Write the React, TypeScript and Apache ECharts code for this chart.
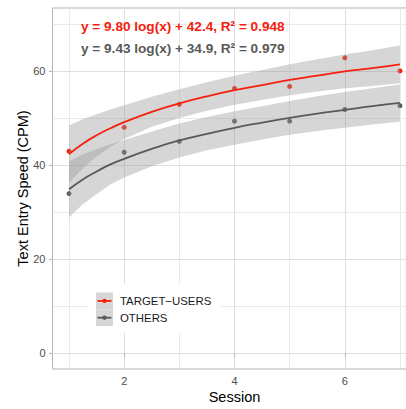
import React, { useEffect, useRef } from "react";
import * as echarts from "echarts";

// Observed session means
const sessions = [1, 2, 3, 4, 5, 6, 7];
const targetSpeed = [43.0, 48.1, 53.0, 56.4, 56.8, 62.9, 60.1];
const otherSpeed = [34.0, 42.8, 45.1, 49.4, 49.4, 51.9, 52.7];

// Fitted curves and confidence bands
const fitSessions = [1, 1.25, 1.5, 1.75, 2, 2.5, 3, 3.5, 4, 4.5, 5, 5.5, 6, 6.5, 7];
const targetFit = [42.4, 44.6, 46.4, 47.9, 49.2, 51.4, 53.2, 54.7, 56.0, 57.1, 58.2, 59.1, 60.0, 60.7, 61.5];
const targetLower = [36.3, 39.4, 41.9, 43.9, 45.6, 48.2, 50.1, 51.6, 52.9, 53.9, 54.9, 55.7, 56.4, 56.9, 57.5];
const targetUpper = [48.5, 49.8, 50.9, 51.9, 52.8, 54.6, 56.2, 57.7, 59.1, 60.3, 61.5, 62.6, 63.6, 64.5, 65.5];
const otherFit = [34.9, 37.0, 38.7, 40.2, 41.4, 43.5, 45.3, 46.7, 48.0, 49.1, 50.1, 51.0, 51.8, 52.6, 53.3];
const otherLower = [28.9, 31.7, 33.9, 35.9, 37.4, 39.8, 41.7, 43.2, 44.4, 45.5, 46.5, 47.3, 48.0, 48.7, 49.3];
const otherUpper = [40.9, 42.3, 43.5, 44.5, 45.4, 47.2, 48.9, 50.3, 51.5, 52.6, 53.7, 54.7, 55.6, 56.4, 57.2];

// Axis breaks
const xMajor = [2, 4, 6];
const xMinor = [1, 3, 5, 7];
const yMajor = [0, 20, 40, 60];
const yMinor = [10, 30, 50, 70];

const groupNames = ["TARGET\u2212USERS", "OTHERS"];
const equations = [
  "y = 9.80 log(x) + 42.4, R\u00B2 = 0.948",
  "y = 9.43 log(x) + 34.9, R\u00B2 = 0.979",
];

const RED = "#f5200e";
const GREY = "#595959";
const FONT = "'Liberation Sans', Arial, Helvetica, sans-serif";

export default function App() {
  const ref = useRef<HTMLDivElement>(null);

  useEffect(() => {
    if (!ref.current) return;
    const chart = echarts.init(ref.current, undefined, { renderer: "svg" });

    const bandSeries = (lower: number[], upper: number[], z: number) => ({
      type: "custom",
      z,
      silent: true,
      data: fitSessions.map((x, i) => [x, lower[i], upper[i]]),
      encode: { x: 0, y: [1, 2] },
      renderItem: (params: any, api: any) => {
        if (params.dataIndex !== 0) return null;
        const pts: number[][] = [];
        fitSessions.forEach((x, i) => pts.push(api.coord([x, upper[i]])));
        for (let i = fitSessions.length - 1; i >= 0; i--) {
          pts.push(api.coord([fitSessions[i], lower[i]]));
        }
        return {
          type: "polygon",
          shape: { points: pts },
          style: { fill: "rgba(153,153,153,0.4)" },
        };
      },
    });

    const gridLines = [
      ...yMajor.map((v) => ({ yAxis: v, lineStyle: { color: "#dedede", width: 1 } })),
      ...yMinor.map((v) => ({ yAxis: v, lineStyle: { color: "#e4e4e4", width: 0.8 } })),
      ...xMajor.map((v) => ({ xAxis: v, lineStyle: { color: "#dedede", width: 1 } })),
      ...xMinor.map((v) => ({ xAxis: v, lineStyle: { color: "#e4e4e4", width: 0.8 } })),
    ];

    const lx = 96;
    const ly = 292.5;
    const keyH = 16.8;

    const legendGraphics: any[] = [
      { type: "rect", shape: { x: 88, y: 284, width: 133, height: 49 }, style: { fill: "#ffffff" }, z: 10 },
    ];
    [RED, GREY].forEach((c, i) => {
      const cy = ly + keyH * i + keyH / 2;
      legendGraphics.push(
        { type: "rect", shape: { x: lx, y: ly + keyH * i, width: 17, height: keyH }, style: { fill: "#d6d6d6" }, z: 11 },
        { type: "line", shape: { x1: lx + 1.5, y1: cy, x2: lx + 15.5, y2: cy }, style: { stroke: c, lineWidth: 1.8 }, z: 12 },
        { type: "circle", shape: { cx: lx + 8.5, cy, r: 2.2 }, style: { fill: c }, z: 12 },
        {
          type: "text",
          x: 120,
          y: cy,
          style: { text: groupNames[i], fill: "#1a1a1a", font: `11.4px ${FONT}`, textVerticalAlign: "middle" },
          z: 12,
        }
      );
    });

    const eqGraphics = equations.map((t, i) => ({
      type: "text",
      x: 81,
      y: i === 0 ? 26 : 48.5,
      style: {
        text: t,
        fill: i === 0 ? RED : GREY,
        font: `bold 13.6px ${FONT}`,
        textVerticalAlign: "middle",
      },
      z: 12,
    }));

    const pointStyle = (c: string) => ({ color: c, opacity: 1, borderWidth: 0 });

    chart.setOption({
      animation: false,
      grid: {
        left: 52.5,
        top: 8,
        right: 0.5,
        bottom: 40,
        show: true,
        borderColor: "#b3b3b3",
        borderWidth: 1,
        backgroundColor: "transparent",
        outerBoundsMode: "none",
      },
      xAxis: {
        type: "value",
        min: 0.7,
        max: 7.3,
        name: "Session",
        nameLocation: "middle",
        nameGap: 20,
        nameMoveOverlap: false,
        nameTextStyle: { color: "#000", fontSize: 14.5, fontFamily: FONT },
        axisLine: { show: false },
        axisTick: { show: true, length: 3.5, lineStyle: { color: "#b3b3b3" }, customValues: xMajor },
        axisLabel: { color: "#4d4d4d", fontSize: 11, fontFamily: FONT, margin: 6, customValues: xMajor },
        splitLine: { show: false },
      },
      yAxis: {
        type: "value",
        min: -3.35,
        max: 73.5,
        name: "Text Entry Speed (CPM)",
        nameLocation: "middle",
        nameGap: 22,
        nameMoveOverlap: false,
        nameTextStyle: { color: "#000", fontSize: 14.5, fontFamily: FONT },
        axisLine: { show: false },
        axisTick: { show: true, length: 3.5, lineStyle: { color: "#b3b3b3" }, customValues: yMajor },
        axisLabel: { color: "#4d4d4d", fontSize: 11, fontFamily: FONT, margin: 7, customValues: yMajor },
        splitLine: { show: false },
      },
      series: [
        {
          type: "line",
          data: [],
          z: 0,
          silent: true,
          markLine: {
            z: 0,
            silent: true,
            symbol: ["none", "none"],
            label: { show: false },
            emphasis: { disabled: true },
            lineStyle: { type: "solid" },
            data: gridLines,
          },
        },
        {
          type: "scatter",
          name: groupNames[0],
          data: sessions.map((s, i) => [s, targetSpeed[i]]),
          symbol: "circle",
          symbolSize: 5,
          itemStyle: pointStyle(RED),
          z: 2,
          silent: true,
        },
        {
          type: "scatter",
          name: groupNames[1],
          data: sessions.map((s, i) => [s, otherSpeed[i]]),
          symbol: "circle",
          symbolSize: 5,
          itemStyle: pointStyle(GREY),
          z: 2,
          silent: true,
        },
        bandSeries(targetLower, targetUpper, 3),
        {
          type: "line",
          data: fitSessions.map((s, i) => [s, targetFit[i]]),
          smooth: true,
          showSymbol: false,
          lineStyle: { color: RED, width: 1.8 },
          z: 4,
          silent: true,
        },
        bandSeries(otherLower, otherUpper, 5),
        {
          type: "line",
          data: fitSessions.map((s, i) => [s, otherFit[i]]),
          smooth: true,
          showSymbol: false,
          lineStyle: { color: GREY, width: 1.8 },
          z: 6,
          silent: true,
        },
      ],
      graphic: [...eqGraphics, ...legendGraphics],
    });

    return () => chart.dispose();
  }, []);

  return (
    <div
      ref={ref}
      style={{ position: "fixed", left: 0, top: 0, width: 417, height: 409, background: "#fff" }}
    />
  );
}
